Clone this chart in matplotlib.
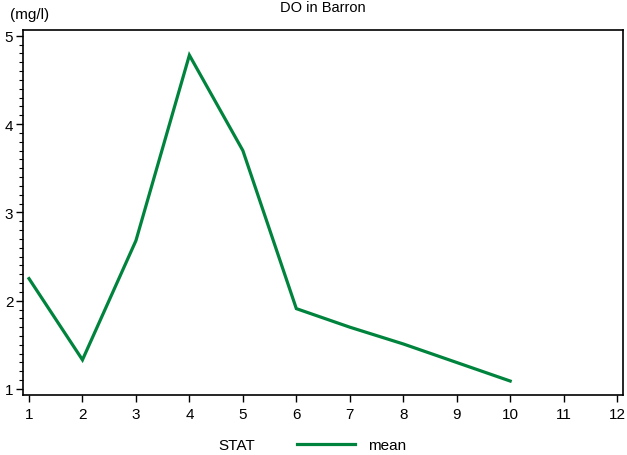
import matplotlib
matplotlib.use("Agg")
import matplotlib.pyplot as plt
from matplotlib.ticker import MultipleLocator

plt.rcParams['font.family'] = ['Liberation Sans', 'DejaVu Sans']

months = [1, 2, 3, 4, 5, 6, 7, 8, 9, 10]
mean_do = [2.25, 1.33, 2.68, 4.78, 3.70, 1.91, 1.70, 1.51, 1.30, 1.09]
x_ticks = list(range(1, 13))
y_ticks = [1, 2, 3, 4, 5]

fig = plt.figure(figsize=(6.27, 4.56), dpi=100)
ax = fig.add_axes([0.0367, 0.1316, 0.9569, 0.8004])

color = '#00843D'
line, = ax.plot(months, mean_do, color=color, lw=2.3, solid_joinstyle='miter')

ax.set_xlim(0.888, 12.11)
ax.set_ylim(0.932, 5.065)
ax.set_xticks(x_ticks)
ax.set_yticks(y_ticks)
ax.yaxis.set_minor_locator(MultipleLocator(0.1))
ax.tick_params(axis='both', which='major', direction='out', length=5, width=1,
               labelsize=11, colors='black')
ax.tick_params(axis='y', which='minor', direction='out', length=3, width=0.8)
ax.tick_params(axis='y', pad=2)
ax.tick_params(axis='x', pad=4)
for s in ax.spines.values():
    s.set_linewidth(1.2)

fig.text(0.515, 0.982, 'DO in Barron', ha='center', va='center', fontsize=10.5)
fig.text(0.016, 0.968, '(mg/l)', ha='left', va='center', fontsize=11)

fig.text(0.348, 0.022, 'STAT', ha='left', va='center', fontsize=11)
leg = fig.legend([line], ['mean'], loc='center left', bbox_to_anchor=(0.4737, 0.022),
                 frameon=False, fontsize=11, handlelength=3.8, handletextpad=0.85,
                 borderaxespad=0, borderpad=0)

fig.savefig('out.png', dpi=100)
